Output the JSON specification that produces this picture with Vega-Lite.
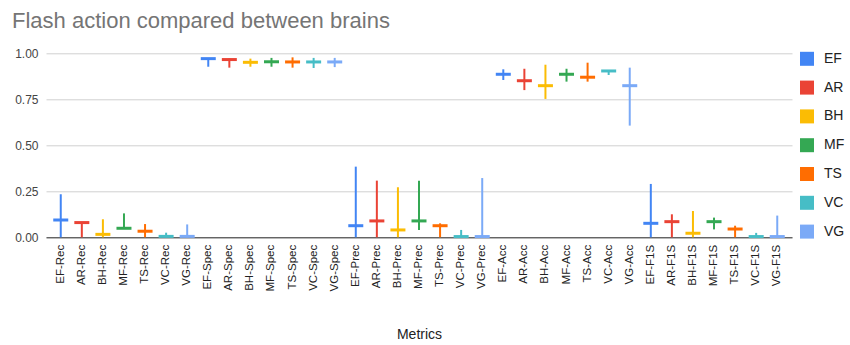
{
  "$schema": "https://vega.github.io/schema/vega-lite/v6.json",
  "autosize": {"type": "none"},
  "width": 746,
  "height": 184,
  "padding": {"left": 46, "top": 53.3, "right": 58, "bottom": 107.7},
  "background": "white",
  "title": {
    "text": "Flash action compared between brains",
    "anchor": "start",
    "frame": "group",
    "baseline": "alphabetic",
    "offset": -3,
    "dx": -34,
    "font": "Liberation Sans",
    "fontSize": 22,
    "fontWeight": "normal",
    "color": "#757575"
  },
  "config": {
    "view": {"stroke": null},
    "font": "Liberation Sans"
  },
  "data": {
    "values": [
      {"cat": "EF-Rec", "brain": "EF", "lo": 0, "mean": 0.094, "hi": 0.234},
      {"cat": "AR-Rec", "brain": "AR", "lo": 0, "mean": 0.080, "hi": 0.081},
      {"cat": "BH-Rec", "brain": "BH", "lo": 0, "mean": 0.016, "hi": 0.098},
      {"cat": "MF-Rec", "brain": "MF", "lo": 0.045, "mean": 0.049, "hi": 0.130},
      {"cat": "TS-Rec", "brain": "TS", "lo": 0, "mean": 0.033, "hi": 0.072},
      {"cat": "VC-Rec", "brain": "VC", "lo": 0, "mean": 0.005, "hi": 0.025},
      {"cat": "VG-Rec", "brain": "VG", "lo": 0, "mean": 0.005, "hi": 0.070},
      {"cat": "EF-Spec", "brain": "EF", "lo": 0.927, "mean": 0.971, "hi": 0.973},
      {"cat": "AR-Spec", "brain": "AR", "lo": 0.922, "mean": 0.966, "hi": 0.972},
      {"cat": "BH-Spec", "brain": "BH", "lo": 0.927, "mean": 0.951, "hi": 0.971},
      {"cat": "MF-Spec", "brain": "MF", "lo": 0.927, "mean": 0.954, "hi": 0.975},
      {"cat": "TS-Spec", "brain": "TS", "lo": 0.922, "mean": 0.953, "hi": 0.978},
      {"cat": "VC-Spec", "brain": "VC", "lo": 0.920, "mean": 0.953, "hi": 0.975},
      {"cat": "VG-Spec", "brain": "VG", "lo": 0.925, "mean": 0.953, "hi": 0.975},
      {"cat": "EF-Prec", "brain": "EF", "lo": 0, "mean": 0.063, "hi": 0.384},
      {"cat": "AR-Prec", "brain": "AR", "lo": 0, "mean": 0.089, "hi": 0.308},
      {"cat": "BH-Prec", "brain": "BH", "lo": 0, "mean": 0.040, "hi": 0.272},
      {"cat": "MF-Prec", "brain": "MF", "lo": 0.040, "mean": 0.089, "hi": 0.308},
      {"cat": "TS-Prec", "brain": "TS", "lo": 0, "mean": 0.063, "hi": 0.076},
      {"cat": "VC-Prec", "brain": "VC", "lo": 0, "mean": 0.004, "hi": 0.040},
      {"cat": "VG-Prec", "brain": "VG", "lo": 0, "mean": 0.004, "hi": 0.322},
      {"cat": "EF-Acc", "brain": "EF", "lo": 0.855, "mean": 0.886, "hi": 0.913},
      {"cat": "AR-Acc", "brain": "AR", "lo": 0.800, "mean": 0.851, "hi": 0.916},
      {"cat": "BH-Acc", "brain": "BH", "lo": 0.752, "mean": 0.824, "hi": 0.938},
      {"cat": "MF-Acc", "brain": "MF", "lo": 0.846, "mean": 0.886, "hi": 0.916},
      {"cat": "TS-Acc", "brain": "TS", "lo": 0.846, "mean": 0.870, "hi": 0.949},
      {"cat": "VC-Acc", "brain": "VC", "lo": 0.882, "mean": 0.904, "hi": 0.906},
      {"cat": "VG-Acc", "brain": "VG", "lo": 0.607, "mean": 0.824, "hi": 0.922},
      {"cat": "EF-F1S", "brain": "EF", "lo": 0, "mean": 0.076, "hi": 0.290},
      {"cat": "AR-F1S", "brain": "AR", "lo": 0, "mean": 0.085, "hi": 0.125},
      {"cat": "BH-F1S", "brain": "BH", "lo": 0, "mean": 0.022, "hi": 0.143},
      {"cat": "MF-F1S", "brain": "MF", "lo": 0.043, "mean": 0.085, "hi": 0.107},
      {"cat": "TS-F1S", "brain": "TS", "lo": 0, "mean": 0.045, "hi": 0.063},
      {"cat": "VC-F1S", "brain": "VC", "lo": 0, "mean": 0.004, "hi": 0.024},
      {"cat": "VG-F1S", "brain": "VG", "lo": 0, "mean": 0.004, "hi": 0.118}
    ]
  },
  "encoding": {
    "x": {
      "field": "cat",
      "type": "nominal",
      "sort": null,
      "scale": {"paddingInner": 0, "paddingOuter": 0.2},
      "axis": {
        "title": "Metrics",
        "titleFont": "Liberation Sans",
        "titleFontSize": 14,
        "titleFontWeight": "normal",
        "titleColor": "#222222",
        "titleBaseline": "alphabetic",
        "titleY": 101.5,
        "labelAngle": -90,
        "labelFont": "Liberation Sans",
        "labelFontSize": 11.5,
        "labelColor": "#222222",
        "labelPadding": 7,
        "ticks": false,
        "domain": true,
        "domainColor": "#333333",
        "domainWidth": 1,
        "grid": false
      }
    },
    "color": {
      "field": "brain",
      "type": "nominal",
      "scale": {
        "domain": ["EF", "AR", "BH", "MF", "TS", "VC", "VG"],
        "range": ["#4285F4", "#EA4335", "#FBBC04", "#34A853", "#FF6D01", "#46BDC6", "#7BAAF7"]
      },
      "legend": {
        "title": null,
        "orient": "none",
        "legendX": 754,
        "legendY": -1.5,
        "symbolType": "square",
        "symbolSize": 196,
        "symbolStrokeWidth": 0,
        "symbolOpacity": 1,
        "rowPadding": 14.8,
        "labelOffset": 10,
        "labelFont": "Liberation Sans",
        "labelFontSize": 14,
        "labelColor": "#222222",
        "encode": {
          "symbols": {
            "update": {
              "fill": {"field": "value", "scale": "color"},
              "fillOpacity": {"value": 1},
              "stroke": {"value": "transparent"}
            }
          }
        }
      }
    }
  },
  "layer": [
    {
      "mark": {"type": "rule", "strokeWidth": 2},
      "encoding": {
        "y": {
          "field": "lo",
          "type": "quantitative",
          "scale": {"domain": [0, 1], "nice": false},
          "axis": {
            "title": null,
            "values": [0, 0.25, 0.5, 0.75, 1],
            "format": ".2f",
            "labelFont": "Liberation Sans",
            "labelFontSize": 12,
            "labelColor": "#444444",
            "labelPadding": 8,
            "ticks": false,
            "domain": false,
            "grid": true,
            "gridColor": "#d0d0d0",
            "gridWidth": 1
          }
        },
        "y2": {"field": "hi"}
      }
    },
    {
      "mark": {"type": "tick", "size": 15, "thickness": 3, "opacity": 1},
      "encoding": {
        "y": {"field": "mean", "type": "quantitative"}
      }
    }
  ]
}
